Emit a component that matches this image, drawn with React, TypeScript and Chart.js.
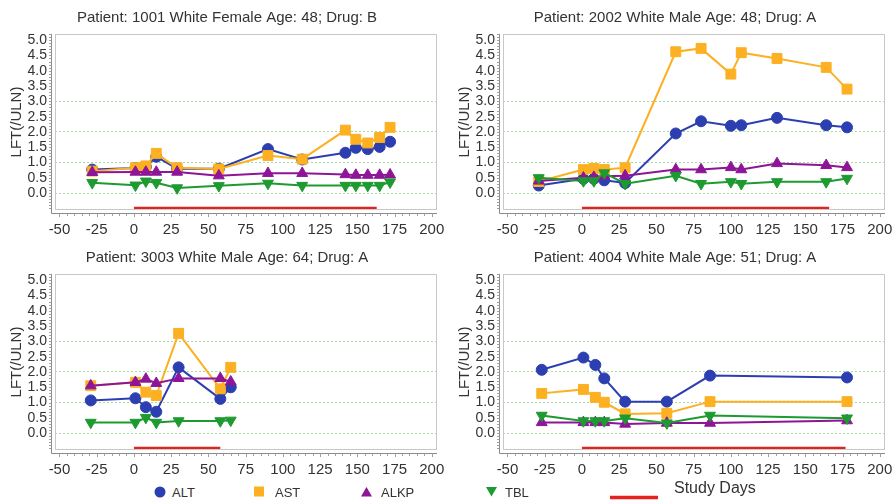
import React, { useEffect, useRef } from "react";
import { Chart, registerables } from "chart.js";

Chart.register(...registerables);

const FONT = "'Liberation Sans', Arial, Helvetica, sans-serif";
const TEXT = "#333333";

// Series colours
const ALT_COLOR = "#2c3fb0";
const AST_COLOR = "#fcb022";
const ALKP_COLOR = "#8e1597";
const TBL_COLOR = "#1d9a30";
const STUDY_COLOR = "#e5231d";

// Axis ticks
const xTickValues = [-50, -25, 0, 25, 50, 75, 100, 125, 150, 175, 200];
const yTickValues = [0, 0.5, 1, 1.5, 2, 2.5, 3, 3.5, 4, 4.5, 5];
const referenceLevels = [0, 1, 2, 3];
const STUDY_BAR_LEVEL = -0.5;

// Patient 1001
const days1001 = [-28, 1, 8, 15, 29, 57, 90, 113, 142, 149, 157, 165, 172];
const alt1001 = [0.77, 0.82, 0.86, 1.19, 0.8, 0.8, 1.44, 1.1, 1.32, 1.48, 1.44, 1.51, 1.68];
const ast1001 = [0.72, 0.83, 0.89, 1.3, 0.83, 0.79, 1.23, 1.11, 2.06, 1.76, 1.64, 1.82, 2.15];
const alkp1001 = [0.68, 0.69, 0.69, 0.69, 0.69, 0.57, 0.65, 0.65, 0.61, 0.59, 0.59, 0.59, 0.6];
const tbl1001 = [0.34, 0.26, 0.39, 0.34, 0.17, 0.24, 0.32, 0.25, 0.25, 0.25, 0.25, 0.25, 0.36];
const studyEnd1001 = 163;

// Patient 2002
const days2002 = [-29, 1, 8, 15, 29, 63, 80, 100, 107, 131, 164, 178];
const alt2002 = [0.25, 0.47, 0.47, 0.42, 0.33, 1.95, 2.35, 2.2, 2.22, 2.46, 2.22, 2.15];
const ast2002 = [0.38, 0.77, 0.81, 0.77, 0.83, 4.62, 4.73, 3.89, 4.59, 4.4, 4.11, 3.4];
const alkp2002 = [0.4, 0.5, 0.52, 0.55, 0.57, 0.77, 0.77, 0.84, 0.77, 0.97, 0.91, 0.84];
const tbl2002 = [0.5, 0.4, 0.4, 0.66, 0.31, 0.57, 0.31, 0.37, 0.31, 0.37, 0.37, 0.48];
const studyEnd2002 = 166;

// Patient 3003
const days3003 = [-29, 1, 8, 15, 30, 58, 65];
const alt3003 = [1.07, 1.14, 0.85, 0.7, 2.15, 1.12, 1.5];
const ast3003 = [1.55, 1.66, 1.34, 1.23, 3.26, 1.45, 2.15];
const alkp3003 = [1.55, 1.66, 1.77, 1.63, 1.79, 1.79, 1.68];
const tbl3003 = [0.35, 0.35, 0.51, 0.35, 0.4, 0.4, 0.42];
const studyEnd3003 = 58;

// Patient 4004
const days4004 = [-27, 1, 9, 15, 29, 57, 86, 178];
const alt4004 = [2.07, 2.47, 2.23, 1.79, 1.03, 1.03, 1.88, 1.82];
const ast4004 = [1.3, 1.43, 1.17, 1.01, 0.63, 0.65, 1.03, 1.03];
const alkp4004 = [0.35, 0.35, 0.35, 0.35, 0.3, 0.33, 0.33, 0.41];
const tbl4004 = [0.58, 0.4, 0.4, 0.4, 0.49, 0.33, 0.58, 0.49];
const studyEnd4004 = 177;

type Panel = {
  title: string;
  days: number[];
  alt: number[];
  ast: number[];
  alkp: number[];
  tbl: number[];
  studyEnd: number;
  left: number;
  top: number;
};

const panels: Panel[] = [
  { title: "Patient: 1001 White Female Age: 48; Drug: B", days: days1001, alt: alt1001, ast: ast1001, alkp: alkp1001, tbl: tbl1001, studyEnd: studyEnd1001, left: 0, top: 0 },
  { title: "Patient: 2002 White Male Age: 48; Drug: A", days: days2002, alt: alt2002, ast: ast2002, alkp: alkp2002, tbl: tbl2002, studyEnd: studyEnd2002, left: 448, top: 0 },
  { title: "Patient: 3003 White Male Age: 64; Drug: A", days: days3003, alt: alt3003, ast: ast3003, alkp: alkp3003, tbl: tbl3003, studyEnd: studyEnd3003, left: 0, top: 240 },
  { title: "Patient: 4004 White Male Age: 51; Drug: A", days: days4004, alt: alt4004, ast: ast4004, alkp: alkp4004, tbl: tbl4004, studyEnd: studyEnd4004, left: 448, top: 240 },
];

const PANEL_W = 448;
const PANEL_H = 240;
const PAD_LEFT = 17;
const PAD_RIGHT = 11;
const AXIS_W = 55 - PAD_LEFT;

// Frame around the plot area plus offset axis lines with minor ticks
const framePlugin = {
  id: "lftFrame",
  afterDraw(chart: any) {
    const { ctx, chartArea: a, scales } = chart;
    ctx.save();
    ctx.lineWidth = 1;
    ctx.strokeStyle = "#c8c8c8";
    ctx.strokeRect(Math.round(a.left) + 0.5, Math.round(a.top) + 0.5, Math.round(a.right - a.left) - 1, Math.round(a.bottom - a.top) - 1);

    const ax = Math.round(a.left) - 3.5;
    const ay = Math.round(a.bottom) + 3.5;
    ctx.strokeStyle = "#8a8a8a";
    ctx.beginPath();
    ctx.moveTo(ax, a.top);
    ctx.lineTo(ax, ay);
    ctx.lineTo(a.right, ay);
    ctx.stroke();

    ctx.strokeStyle = "#a0a0a0";
    ctx.beginPath();
    for (let v = -5; v <= 52; v++) {
      const py = Math.round(scales.y.getPixelForValue(v / 10)) + 0.5;
      if (py < a.top || py > a.bottom) continue;
      ctx.moveTo(ax - 2.5, py);
      ctx.lineTo(ax, py);
    }
    for (let d = -50; d <= 200; d += 5) {
      const px = Math.round(scales.x.getPixelForValue(d)) + 0.5;
      ctx.moveTo(px, ay);
      ctx.lineTo(px, ay + (d % 25 === 0 ? 3.5 : 2.5));
    }
    ctx.stroke();
    ctx.restore();
  },
};

function series(label: string, days: number[], values: number[], color: string, style: string, radius: number, order: number, rotation = 0) {
  return {
    label,
    data: days.map((d, i) => ({ x: d, y: values[i] })),
    borderColor: color,
    backgroundColor: color,
    borderWidth: 2,
    pointStyle: style,
    pointRadius: radius,
    pointRotation: rotation,
    pointBackgroundColor: color,
    pointBorderColor: color,
    pointBorderWidth: 1,
    tension: 0,
    order,
  };
}

function PanelChart({ panel }: { panel: Panel }) {
  const ref = useRef<HTMLCanvasElement | null>(null);

  useEffect(() => {
    if (!ref.current) return;
    const chart = new Chart(ref.current, {
      type: "line",
      data: {
        datasets: [
          {
            label: "Study Days",
            data: [
              { x: 0, y: STUDY_BAR_LEVEL },
              { x: panel.studyEnd, y: STUDY_BAR_LEVEL },
            ],
            borderColor: STUDY_COLOR,
            borderWidth: 3.5,
            pointRadius: 0,
            order: 5,
          },
          series("ALT", panel.days, panel.alt, ALT_COLOR, "circle", 5.5, 4),
          series("AST", panel.days, panel.ast, AST_COLOR, "rect", 7, 3),
          series("ALKP", panel.days, panel.alkp, ALKP_COLOR, "triangle", 6.3, 2),
          series("TBL", panel.days, panel.tbl, TBL_COLOR, "triangle", 6.3, 1, 180),
        ] as any,
      },
      options: {
        responsive: false,
        animation: false,
        layout: { padding: { left: PAD_LEFT, right: PAD_RIGHT, top: 0, bottom: 0 } },
        plugins: {
          legend: { display: false },
          tooltip: { enabled: false },
          title: {
            display: true,
            text: panel.title,
            color: TEXT,
            font: { family: FONT, size: 15, weight: "normal" },
            padding: { top: 9, bottom: 7 },
          },
        },
        scales: {
          x: {
            type: "linear",
            min: -53,
            max: 203.5,
            afterBuildTicks: (s: any) => {
              s.ticks = xTickValues.map((v) => ({ value: v }));
            },
            afterFit: (s: any) => {
              s.height = 30;
              s.paddingLeft = 0;
              s.paddingRight = 0;
            },
            grid: { display: false, drawTicks: false },
            border: { display: false },
            ticks: {
              autoSkip: false,
              maxRotation: 0,
              padding: 11,
              color: TEXT,
              font: { family: FONT, size: 15 },
            },
          },
          y: {
            type: "linear",
            min: -0.55,
            max: 5.2,
            afterBuildTicks: (s: any) => {
              s.ticks = yTickValues.map((v) => ({ value: v }));
            },
            afterFit: (s: any) => {
              s.width = AXIS_W;
              s.paddingTop = 0;
              s.paddingBottom = 0;
            },
            grid: {
              drawTicks: false,
              lineWidth: 1,
              color: (c: any) => (c.tick && referenceLevels.includes(c.tick.value) ? "#a9d9a0" : "rgba(0,0,0,0)"),
            },
            border: { display: false, dash: [2, 2] },
            title: {
              display: true,
              text: "LFT(/ULN)",
              color: TEXT,
              font: { family: FONT, size: 15 },
              padding: { top: 17 - PAD_LEFT - 9, bottom: 0 },
            },
            ticks: {
              autoSkip: false,
              padding: 8,
              color: TEXT,
              font: { family: FONT, size: 14 },
              callback: (v: any) => Number(v).toFixed(1),
            },
          },
        },
      } as any,
      plugins: [framePlugin],
    });
    return () => chart.destroy();
  }, [panel]);

  return (
    <canvas
      ref={ref}
      width={PANEL_W}
      height={PANEL_H}
      style={{ position: "absolute", left: panel.left, top: panel.top, width: PANEL_W, height: PANEL_H }}
    />
  );
}

const legendText: React.CSSProperties = {
  position: "absolute",
  fontFamily: FONT,
  fontSize: 13,
  color: TEXT,
  lineHeight: "16px",
  whiteSpace: "nowrap",
};

function Legend() {
  return (
    <>
      <svg width={896} height={20} style={{ position: "absolute", left: 0, top: 480 }}>
        <circle cx={160} cy={12} r={5.5} fill={ALT_COLOR} />
        <rect x={254} y={6.5} width={10} height={10} fill={AST_COLOR} />
        <polygon points="361,16.5 372,16.5 366.5,7" fill={ALKP_COLOR} />
        <polygon points="486,7 497,7 491.5,16.5" fill={TBL_COLOR} />
        <line x1={610} y1={17.5} x2={658} y2={17.5} stroke={STUDY_COLOR} strokeWidth={3.5} />
      </svg>
      <div style={{ ...legendText, left: 172, top: 485 }}>ALT</div>
      <div style={{ ...legendText, left: 275, top: 485 }}>AST</div>
      <div style={{ ...legendText, left: 381, top: 485 }}>ALKP</div>
      <div style={{ ...legendText, left: 505, top: 485 }}>TBL</div>
      <div style={{ ...legendText, left: 674, top: 478, fontSize: 16, lineHeight: "20px" }}>Study Days</div>
    </>
  );
}

export default function App() {
  return (
    <div style={{ position: "absolute", left: 0, top: 0, width: 896, height: 500, background: "#ffffff", overflow: "hidden" }}>
      {panels.map((p) => (
        <PanelChart key={p.title} panel={p} />
      ))}
      <Legend />
    </div>
  );
}
